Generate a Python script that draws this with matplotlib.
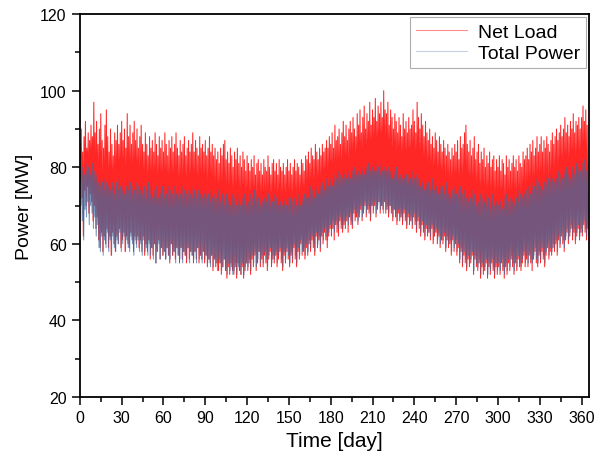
"""Net load vs total power over one year, drawn as daily high/low swings."""

import matplotlib

matplotlib.use("Agg")
import matplotlib.pyplot as plt
import numpy as np
from matplotlib.lines import Line2D
from matplotlib.ticker import MultipleLocator

plt.rcParams["font.family"] = ["Liberation Sans", "DejaVu Sans"]

# daily peak / trough, day 0 .. 364
net_hi = [
    86, 90, 84, 88, 92, 85, 89, 87, 91, 88,
    97, 89, 92, 86, 90, 94, 87, 85, 91, 95,
    88, 84, 90, 86, 83, 89, 87, 91, 86, 89,
    92, 87, 90, 85, 94, 88, 91, 86, 89, 92,
    87, 90, 85, 88, 91, 86, 84, 89, 86, 83,
    88, 85, 87, 84, 89, 86, 83, 88, 85, 87,
    84, 89, 86, 83, 87, 85, 88, 84, 86, 89,
    85, 83, 87, 84, 86, 88, 83, 85, 87, 84,
    86, 89, 84, 87, 85, 83, 88, 85, 86, 84,
    87, 83, 85, 88, 84, 86, 83, 85, 82, 84,
    81, 85, 83, 86, 87, 82, 84, 81, 85, 83,
    80, 84, 82, 85, 81, 83, 80, 84, 82, 79,
    83, 81, 79, 82, 80, 83, 78, 81, 82, 79,
    81, 78, 82, 80, 79, 83, 80, 78, 81, 82,
    79, 81, 78, 82, 80, 79, 81, 78, 80, 82,
    79, 81, 78, 80, 82, 79, 81, 80, 78, 82,
    81, 79, 83, 82, 84, 81, 85, 83, 82, 86,
    84, 82, 85, 83, 86, 84, 85, 87, 85, 88,
    86, 89, 85, 91, 87, 88, 90, 86, 89, 92,
    88, 91, 87, 90, 92, 89, 93, 90, 88, 94,
    91, 95, 89, 93, 96, 90, 94, 92, 97, 91,
    95, 93, 98, 92, 96, 94, 97, 93, 100, 95,
    94, 97, 91, 95, 93, 90, 94, 92, 89, 93,
    91, 88, 94, 90, 92, 89, 93, 90, 91, 95,
    92, 89, 97, 93, 90, 94, 91, 88, 92, 89,
    87, 90, 86, 88, 85, 89, 87, 84, 88, 86,
    84, 87, 85, 83, 86, 84, 82, 85, 83, 86,
    84, 87, 82, 88, 85, 86, 89, 91, 86, 84,
    87, 83, 85, 88, 82, 84, 86, 81, 84, 82,
    85, 80, 83, 81, 84, 80, 82, 83, 79, 82,
    80, 83, 79, 82, 81, 78, 83, 80, 82, 79,
    81, 83, 80, 82, 79, 83, 81, 80, 84, 82,
    83, 85, 82, 86, 84, 87, 83, 85, 88, 84,
    86, 88, 84, 87, 85, 88, 86, 84, 87, 89,
    86, 88, 90, 87, 89, 91, 88, 90, 93, 89,
    91, 88, 92, 90, 94, 89, 92, 91, 93, 90,
    93, 96, 92, 95, 91,
]
net_lo = [
    76, 72, 62, 74, 70, 75, 68, 73, 71, 66,
    70, 64, 67, 61, 59, 63, 58, 62, 60, 64,
    59, 62, 57, 63, 60, 58, 62, 60, 64, 59,
    61, 63, 58, 62, 60, 59, 63, 61, 58, 62,
    60, 62, 59, 61, 58, 62, 57, 60, 58, 61,
    56, 59, 57, 60, 55, 58, 61, 56, 59, 57,
    58, 56, 59, 57, 55, 60, 57, 58, 56, 59,
    57, 55, 59, 56, 58, 57, 55, 59, 56, 58,
    57, 55, 58, 56, 59, 55, 57, 56, 58, 55,
    57, 54, 56, 55, 57, 53, 56, 54, 55, 53,
    55, 52, 54, 56, 53, 51, 54, 52, 55, 53,
    52, 54, 51, 55, 53, 52, 54, 51, 53, 55,
    53, 55, 52, 56, 54, 57, 53, 55, 58, 54,
    56, 54, 57, 55, 53, 56, 58, 54, 56, 55,
    57, 54, 56, 58, 55, 53, 57, 55, 58, 56,
    54, 57, 55, 59, 56, 54, 58, 56, 60, 57,
    58, 56, 59, 57, 60, 58, 61, 59, 57, 62,
    59, 61, 58, 62, 60, 63, 61, 59, 62, 64,
    62, 64, 61, 65, 63, 62, 66, 64, 63, 65,
    64, 66, 63, 67, 65, 64, 68, 66, 67, 65,
    67, 69, 66, 68, 70, 67, 69, 68, 66, 70,
    68, 70, 67, 69, 71, 68, 70, 69, 71, 68,
    69, 67, 70, 68, 66, 69, 67, 65, 68, 66,
    67, 65, 68, 66, 64, 67, 65, 66, 64, 67,
    65, 63, 66, 64, 62, 65, 63, 61, 64, 62,
    63, 61, 64, 60, 62, 63, 60, 62, 59, 61,
    60, 62, 58, 61, 59, 60, 57, 61, 58, 60,
    57, 59, 55, 58, 54, 57, 55, 53, 56, 54,
    55, 57, 52, 56, 54, 53, 55, 51, 54, 52,
    53, 55, 51, 54, 52, 55, 53, 51, 54, 52,
    54, 52, 55, 53, 51, 54, 52, 55, 53, 56,
    54, 52, 55, 53, 56, 54, 53, 55, 57, 54,
    56, 54, 57, 55, 53, 56, 58, 55, 54, 57,
    55, 58, 56, 54, 57, 59, 56, 58, 57, 59,
    58, 60, 57, 61, 59, 62, 60, 58, 61, 63,
    60, 62, 64, 61, 63, 60, 62, 64, 61, 63,
    62, 65, 63, 61, 64,
]
pow_hi = [
    82, 79, 80, 78, 81, 79, 80, 78, 79, 81,
    79, 77, 78, 76, 77, 75, 76, 77, 74, 76,
    75, 77, 74, 76, 75, 73, 76, 74, 77, 75,
    74, 76, 73, 75, 77, 74, 76, 73, 75, 74,
    76, 73, 75, 74, 76, 73, 75, 72, 74, 76,
    73, 75, 72, 74, 73, 75, 72, 74, 73, 75,
    72, 74, 73, 75, 72, 74, 73, 72, 75, 73,
    74, 72, 73, 75, 72, 74, 73, 72, 74, 73,
    75, 72, 74, 73, 72, 74, 73, 75, 72, 73,
    74, 72, 73, 71, 74, 72, 73, 71, 72, 74,
    72, 71, 73, 72, 70, 73, 71, 72, 70, 73,
    71, 72, 70, 73, 71, 70, 72, 71, 73, 70,
    72, 71, 73, 70, 72, 74, 71, 73, 72, 70,
    73, 71, 72, 74, 71, 73, 70, 72, 71, 73,
    71, 72, 70, 73, 71, 70, 72, 71, 70, 72,
    70, 72, 71, 69, 72, 70, 71, 73, 70, 72,
    71, 73, 72, 74, 72, 75, 73, 74, 72, 75,
    74, 73, 75, 74, 76, 74, 75, 77, 75, 76,
    77, 75, 78, 76, 77, 79, 76, 78, 77, 79,
    78, 77, 79, 78, 77, 79, 78, 80, 78, 79,
    79, 78, 80, 79, 78, 80, 79, 81, 79, 80,
    80, 79, 81, 79, 80, 78, 81, 79, 80, 79,
    79, 80, 78, 79, 77, 79, 78, 80, 77, 78,
    78, 77, 79, 77, 78, 76, 78, 77, 79, 76,
    77, 78, 76, 77, 75, 77, 76, 74, 76, 75,
    76, 74, 75, 77, 74, 76, 75, 73, 75, 74,
    75, 73, 74, 76, 73, 74, 72, 74, 73, 75,
    73, 74, 72, 75, 73, 71, 74, 72, 73, 71,
    72, 74, 71, 73, 70, 72, 71, 73, 70, 72,
    71, 73, 70, 72, 69, 71, 73, 70, 72, 71,
    70, 72, 71, 69, 72, 70, 73, 71, 70, 72,
    71, 73, 70, 72, 74, 71, 73, 72, 74, 73,
    74, 72, 75, 73, 76, 74, 75, 77, 74, 76,
    75, 77, 74, 76, 78, 75, 77, 76, 78, 77,
    76, 78, 77, 79, 76, 78, 77, 79, 78, 80,
    78, 79, 77, 80, 79, 78, 81, 79, 80, 79,
    81, 80, 82, 79, 81,
]
pow_lo = [
    70, 66, 61, 69, 67, 71, 65, 70, 68, 64,
    67, 62, 65, 59, 58, 62, 57, 61, 59, 63,
    58, 61, 57, 62, 59, 58, 61, 60, 63, 58,
    60, 62, 58, 61, 59, 58, 62, 60, 57, 61,
    59, 61, 58, 60, 57, 61, 58, 59, 57, 60,
    57, 59, 56, 60, 55, 58, 60, 56, 59, 57,
    58, 56, 59, 57, 56, 60, 57, 58, 55, 59,
    57, 56, 59, 55, 58, 57, 56, 59, 55, 58,
    57, 56, 58, 55, 59, 56, 57, 55, 58, 56,
    57, 55, 56, 54, 57, 54, 56, 55, 53, 56,
    55, 53, 54, 56, 53, 52, 55, 53, 54, 52,
    53, 55, 52, 54, 53, 52, 55, 52, 54, 55,
    54, 56, 53, 57, 55, 58, 54, 56, 58, 55,
    57, 55, 58, 56, 54, 57, 59, 55, 57, 56,
    58, 55, 57, 59, 56, 54, 58, 56, 59, 57,
    55, 58, 56, 60, 57, 55, 59, 57, 61, 58,
    59, 57, 60, 58, 61, 59, 62, 60, 58, 63,
    60, 62, 59, 63, 61, 64, 62, 61, 63, 65,
    64, 66, 63, 66, 65, 64, 67, 65, 64, 66,
    66, 67, 65, 68, 66, 65, 69, 67, 68, 66,
    68, 70, 67, 69, 71, 68, 70, 69, 67, 70,
    69, 71, 68, 70, 71, 69, 70, 68, 71, 69,
    70, 68, 70, 69, 67, 69, 68, 66, 69, 67,
    68, 66, 69, 67, 65, 68, 66, 67, 65, 68,
    66, 64, 67, 65, 63, 66, 64, 62, 65, 63,
    64, 62, 65, 61, 63, 64, 61, 63, 60, 62,
    61, 63, 59, 62, 60, 61, 58, 62, 59, 61,
    58, 60, 56, 59, 55, 58, 56, 54, 57, 55,
    56, 58, 53, 57, 55, 54, 56, 52, 55, 53,
    54, 56, 52, 55, 53, 56, 54, 52, 55, 53,
    55, 53, 56, 54, 52, 55, 53, 56, 54, 57,
    55, 53, 56, 54, 57, 55, 54, 56, 58, 55,
    57, 55, 58, 56, 55, 57, 59, 56, 55, 58,
    56, 59, 57, 55, 58, 60, 57, 59, 58, 60,
    59, 61, 58, 62, 60, 63, 61, 59, 62, 64,
    61, 63, 65, 62, 64, 61, 63, 65, 62, 64,
    63, 66, 64, 62, 65,
]
x_ticks = list(range(0, 361, 30))
y_ticks = list(range(20, 121, 20))

NET_COLOR = "#ff0000"
POW_COLOR = "#3a6aa0"


def _swing(hi, lo, lag=0.0):
    """Interleave daily peak and trough so each day draws one up/down stroke."""
    days = np.arange(len(hi))
    t = np.column_stack([days + lag, days + lag + 0.5]).ravel()
    y = np.column_stack([hi, lo]).ravel()
    return t, y


fig = plt.figure(figsize=(6.05, 4.6), dpi=100)
ax = fig.add_axes([0.132, 0.135, 0.842, 0.832])

t, y = _swing(net_hi, net_lo)
ax.plot(t, y, color=NET_COLOR, linewidth=0.75, alpha=0.85)
t, y = _swing(pow_hi, pow_lo, lag=0.25)
ax.plot(t, y, color=POW_COLOR, linewidth=0.75, alpha=0.7)

ax.set_xlim(0, 365.5)
ax.set_ylim(20, 120)
ax.set_xticks(x_ticks)
ax.set_yticks(y_ticks)
ax.xaxis.set_minor_locator(MultipleLocator(15))
ax.yaxis.set_minor_locator(MultipleLocator(10))
ax.tick_params(which="major", direction="out", length=6, width=1.1,
               labelsize=11.5, top=False, right=False)
ax.tick_params(which="minor", direction="out", length=3.5, width=1.1,
               top=False, right=False)
for side in ax.spines.values():
    side.set_linewidth(1.3)

ax.set_xlabel("Time [day]", fontsize=15, labelpad=4)
ax.set_ylabel("Power [MW]", fontsize=14, labelpad=5)

# legend keys are single faint strokes, as in the original
handles = [
    Line2D([], [], color=NET_COLOR, linewidth=0.8, alpha=0.45),
    Line2D([], [], color=POW_COLOR, linewidth=0.8, alpha=0.3),
]
leg = ax.legend(handles, ["Net Load", "Total Power"], loc="upper right",
                fontsize=14, frameon=True, fancybox=False,
                borderaxespad=0.15, handlelength=2.6, borderpad=0.3,
                labelspacing=0.2, handletextpad=0.6)
leg.get_frame().set_edgecolor("#999999")
leg.get_frame().set_linewidth(0.8)

fig.savefig("out.png", dpi=100)
